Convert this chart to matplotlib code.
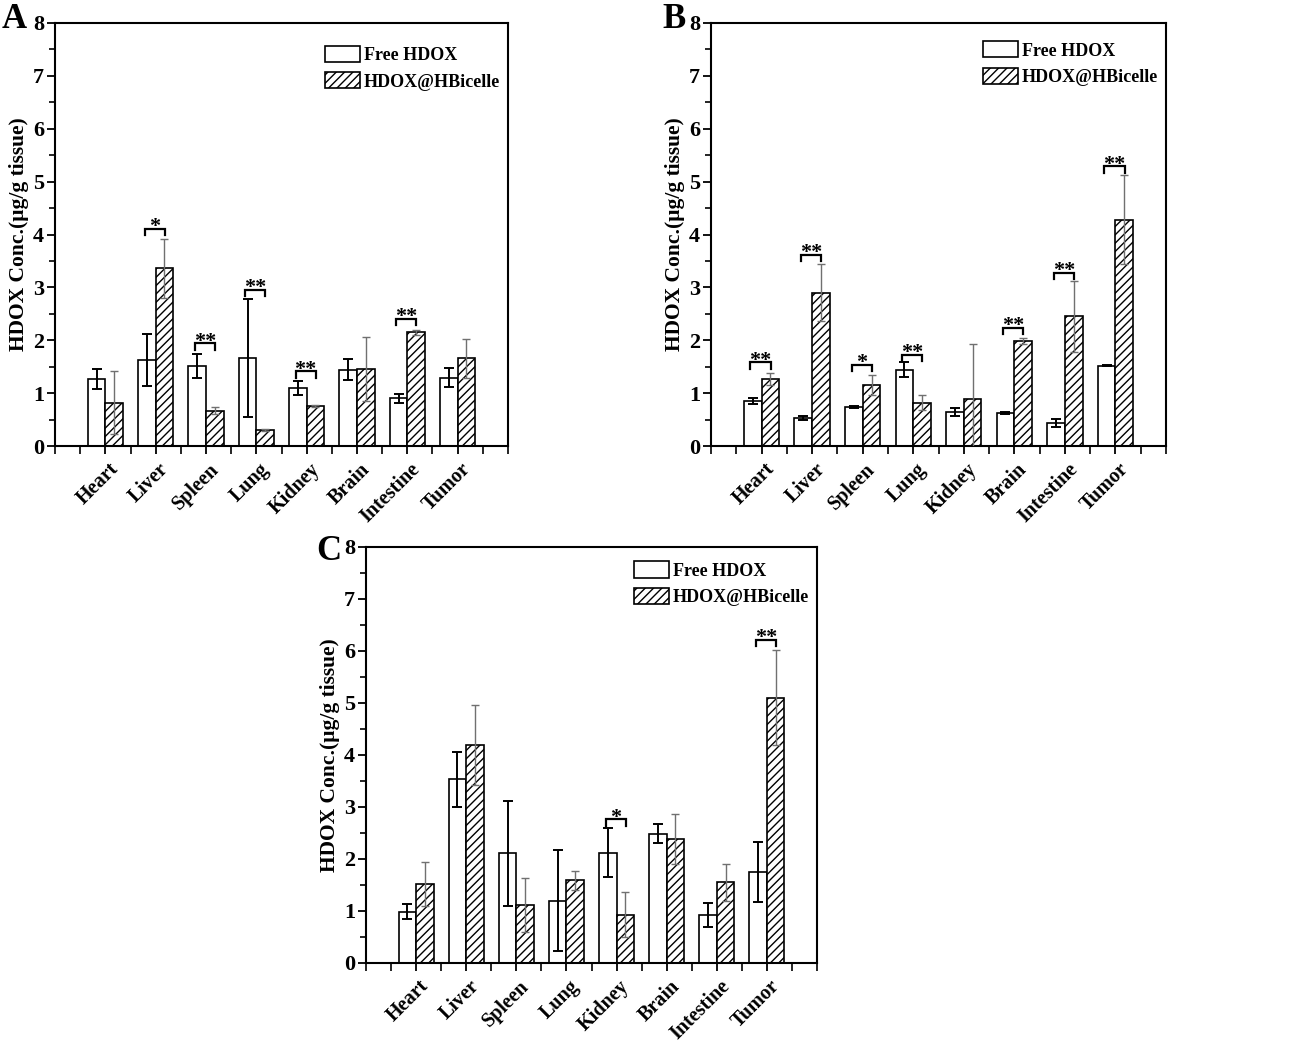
import matplotlib
matplotlib.use("Agg")
import matplotlib.pyplot as plt
import matplotlib.transforms as mtransforms
import numpy as np
from matplotlib.patches import Patch

plt.rcParams['font.family'] = ['Liberation Serif', 'DejaVu Serif']
plt.rcParams['font.weight'] = 'bold'
plt.rcParams['hatch.linewidth'] = 1.0

cats = ['Heart', 'Liver', 'Spleen', 'Lung', 'Kidney', 'Brain', 'Intestine', 'Tumor']
series_names = ['Free HDOX', 'HDOX@HBicelle']

A_free = [1.27, 1.63, 1.51, 1.66, 1.10, 1.44, 0.90, 1.29]
A_free_err = [0.19, 0.49, 0.23, 1.12, 0.13, 0.20, 0.08, 0.18]
A_hb = [0.82, 3.36, 0.67, 0.30, 0.76, 1.46, 2.15, 1.66]
A_hb_err = [0.60, 0.56, 0.07, 0.02, 0.02, 0.61, 0.05, 0.37]
A_sig = [(1, 4.11, '*'), (2, 1.94, '**'), (3, 2.95, '**'), (4, 1.41, '**'), (6, 2.40, '**')]

B_free = [0.85, 0.53, 0.73, 1.44, 0.64, 0.62, 0.44, 1.52]
B_free_err = [0.05, 0.04, 0.02, 0.14, 0.07, 0.02, 0.08, 0.01]
B_hb = [1.27, 2.90, 1.15, 0.82, 0.89, 1.99, 2.45, 4.28]
B_hb_err = [0.12, 0.54, 0.19, 0.14, 1.03, 0.06, 0.68, 0.84]
B_sig = [(0, 1.58, '**'), (1, 3.62, '**'), (2, 1.53, '*'), (3, 1.72, '**'),
         (5, 2.23, '**'), (6, 3.27, '**'), (7, 5.29, '**')]

C_free = [0.99, 3.53, 2.11, 1.20, 2.12, 2.49, 0.92, 1.75]
C_free_err = [0.15, 0.53, 1.01, 0.97, 0.47, 0.19, 0.23, 0.57]
C_hb = [1.52, 4.20, 1.11, 1.59, 0.93, 2.39, 1.55, 5.10]
C_hb_err = [0.42, 0.77, 0.52, 0.18, 0.43, 0.48, 0.36, 0.91]
C_sig = [(4, 2.76, '*'), (7, 6.21, '**')]

W, H = 1299, 1052
fig = plt.figure(figsize=(W / 100, H / 100), dpi=100)


def make_ax(l, r, t, b):
    return fig.add_axes([l / W, 1 - b / H, (r - l) / W, (b - t) / H])


def panel(ax, free, free_err, hb, hb_err, sig, letter, letter_xy, leg_y):
    x = np.arange(1, len(cats) + 1)
    w = 0.35
    ax.bar(x - w / 2, free, w, color='white', edgecolor='black', linewidth=1.2, zorder=2)
    ax.bar(x + w / 2, hb, w, color='white', edgecolor='black', linewidth=1.2,
           hatch='////', zorder=2)
    ax.errorbar(x - w / 2, free, yerr=free_err, fmt='none', ecolor='black',
                elinewidth=1.4, capsize=3.5, capthick=1.4, zorder=3)
    ax.errorbar(x + w / 2, hb, yerr=hb_err, fmt='none', ecolor='#707070',
                elinewidth=1.0, capsize=3, capthick=1.0, zorder=3)
    for i, y, s in sig:
        c = i + 1
        x0, x1 = c - 0.22, c + 0.18
        ax.plot([x0, x0, x1, x1], [y - 0.12, y, y, y - 0.12], color='black',
                lw=1.6, zorder=4, solid_joinstyle='miter')
        ax.annotate(s, xy=((x0 + x1) / 2, y), xytext=(0, -6), textcoords='offset points',
                    ha='center', va='bottom', fontsize=16, fontweight='bold')
    ax.set_xlim(0, 9)
    ax.set_ylim(0, 8)
    ax.set_xticks(x)
    ax.set_xticks(np.arange(0, 9.01, 0.5), minor=True)
    ax.set_yticks(np.arange(0, 9))
    ax.set_yticks(np.arange(0, 8.01, 0.5), minor=True)
    ax.tick_params(axis='both', which='major', direction='out', length=6, width=1.3)
    ax.tick_params(axis='both', which='minor', direction='out', length=4, width=1.2)
    ax.tick_params(axis='x', which='minor', length=6)
    ax.tick_params(axis='y', pad=2)
    ax.set_xticklabels(cats, rotation=45, ha='right', va='top', fontsize=14.5,
                       fontweight='bold')
    ax.set_yticklabels([str(v) for v in range(9)], fontsize=16, fontweight='bold')
    offset = mtransforms.ScaledTranslation(17 / 100, 0, fig.dpi_scale_trans)
    for lab in ax.get_xticklabels():
        lab.set_transform(lab.get_transform() + offset)
    for sp in ax.spines.values():
        sp.set_linewidth(1.5)
    ax.set_ylabel('HDOX Conc.(μg/g tissue)', fontsize=15.5, fontweight='bold', labelpad=3)
    handles = [Patch(facecolor='white', edgecolor='black', linewidth=1.2),
               Patch(facecolor='white', edgecolor='black', linewidth=1.2, hatch='////')]
    ax.legend(handles, series_names, loc='upper right', bbox_to_anchor=(1.0, leg_y),
              frameon=False, prop={'size': 13, 'weight': 'bold'},
              handlelength=1.95, handleheight=1.0, handletextpad=0.2,
              labelspacing=0.45, borderaxespad=0.0, borderpad=0.45)
    fig.text(letter_xy[0] / W, 1 - letter_xy[1] / H, letter, fontsize=25,
             fontweight='bold', ha='center', va='center')


axA = make_ax(55, 508, 23, 446)
axB = make_ax(711, 1166, 23, 446)
axC = make_ax(366, 817, 547, 963)
panel(axA, A_free, A_free_err, A_hb, A_hb_err, A_sig, 'A', (14, 19), 0.965)
panel(axB, B_free, B_free_err, B_hb, B_hb_err, B_sig, 'B', (674, 19), 0.976)
panel(axC, C_free, C_free_err, C_hb, C_hb_err, C_sig, 'C', (329, 552), 0.985)

fig.savefig('out.png', dpi=100)
